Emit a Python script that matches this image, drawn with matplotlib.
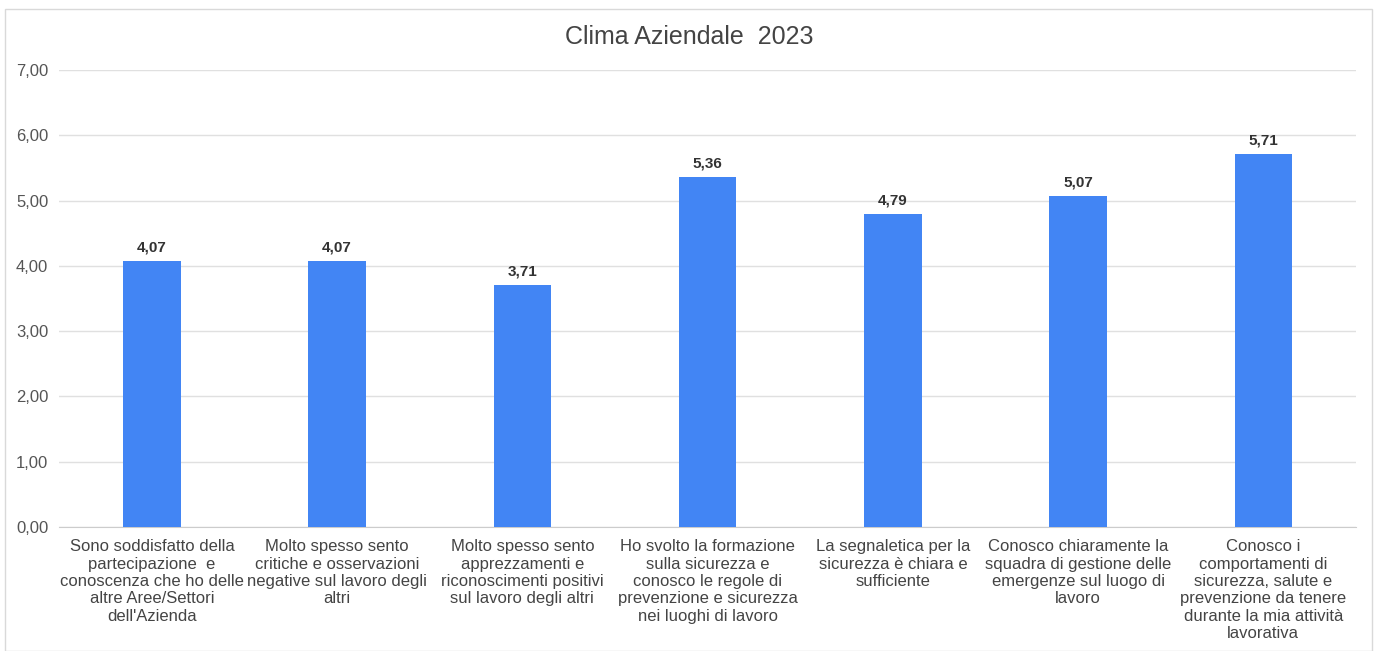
import matplotlib.pyplot as plt
from matplotlib.patches import Rectangle
import numpy as np

plt.rcParams['font.family'] = ['Liberation Sans', 'DejaVu Sans']

# Survey items and mean scores
categories = [
    "Sono soddisfatto della\npartecipazione  e\nconoscenza che ho delle\naltre Aree/Settori\ndell'Azienda",
    "Molto spesso sento\ncritiche e osservazioni\nnegative sul lavoro degli\naltri",
    "Molto spesso sento\napprezzamenti e\nriconoscimenti positivi\nsul lavoro degli altri",
    "Ho svolto la formazione\nsulla sicurezza e\nconosco le regole di\nprevenzione e sicurezza\nnei luoghi di lavoro",
    "La segnaletica per la\nsicurezza è chiara e\nsufficiente",
    "Conosco chiaramente la\nsquadra di gestione delle\nemergenze sul luogo di\nlavoro",
    "Conosco i\ncomportamenti di\nsicurezza, salute e\nprevenzione da tenere\ndurante la mia attività\nlavorativa",
]
scores = [4.07, 4.07, 3.71, 5.36, 4.79, 5.07, 5.71]
yticks = [0, 1, 2, 3, 4, 5, 6, 7]

fig = plt.figure(figsize=(13.78, 6.51), dpi=100)
ax = fig.add_axes([0.043, 0.1905, 0.941, 0.702])

# light frame round the whole chart
fig.patches.append(Rectangle((5 / 1378, 0), 1367 / 1378, 642 / 651,
                             transform=fig.transFigure, fill=False,
                             edgecolor='#d9d9d9', linewidth=1))

x = np.arange(len(categories))
bars = ax.bar(x, scores, width=0.31, color='#4285f4', zorder=3)

for xi, v in zip(x, scores):
    ax.text(xi, v + 0.1, f"{v:.2f}".replace('.', ','), ha='center', va='bottom',
            fontsize=11, fontweight='bold', color='#333333')

ax.set_xlim(-0.5, len(categories) - 0.5)
ax.set_ylim(0, 7)
ax.set_yticks(yticks)
ax.set_yticklabels([f"{t:.2f}".replace('.', ',') for t in yticks])
ax.set_xticks(x)
ax.set_xticklabels(categories, fontsize=12, color='#444444', linespacing=1.19)

ax.grid(axis='y', color='#e0e0e0', linewidth=1, zorder=0)
for s in ['top', 'right', 'left']:
    ax.spines[s].set_visible(False)
ax.spines['bottom'].set_color('#cccccc')
ax.tick_params(axis='both', length=0)
ax.tick_params(axis='y', labelsize=12, labelcolor='#555555', pad=8)
ax.tick_params(axis='x', pad=9)

fig.text(0.5, 0.943, 'Clima Aziendale  2023', ha='center', va='center',
         fontsize=18, color='#444444')

fig.savefig('out.png', dpi=100)
